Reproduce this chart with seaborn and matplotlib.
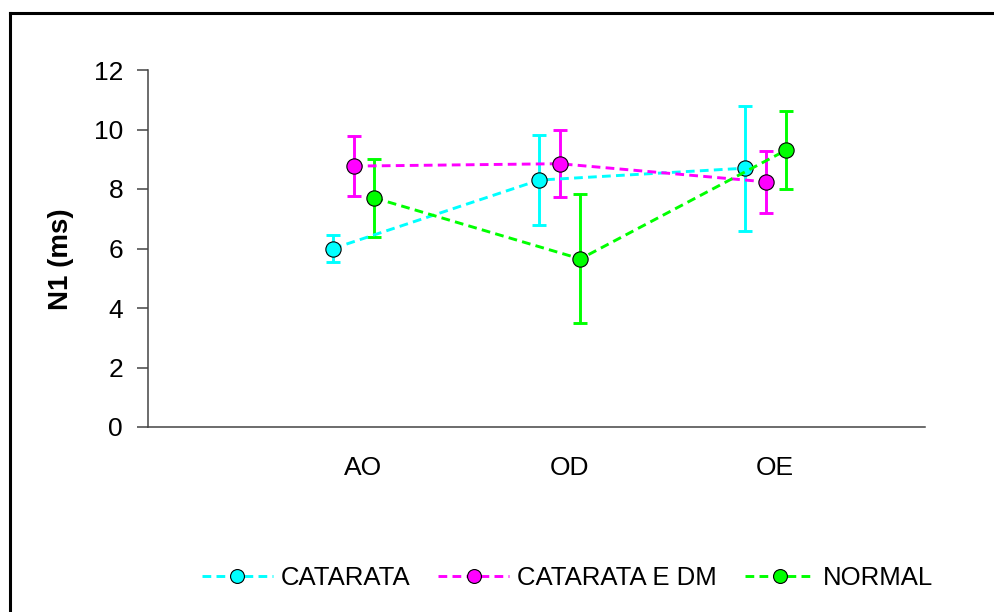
import matplotlib
matplotlib.use("Agg")
import matplotlib.pyplot as plt
from matplotlib.lines import Line2D
import numpy as np
import pandas as pd
import seaborn as sns

categories = ["AO", "OD", "OE"]
groups = ["CATARATA", "CATARATA E DM", "NORMAL"]
catarata = [6.0, 8.3, 8.7]
catarata_err = [0.45, 1.5, 2.1]
catarata_dm = [8.77, 8.85, 8.24]
catarata_dm_err = [1.0, 1.12, 1.05]
normal = [7.7, 5.65, 9.31]
normal_err = [1.3, 2.17, 1.31]
y_ticks = [0, 2, 4, 6, 8, 10, 12]

values = {"CATARATA": catarata, "CATARATA E DM": catarata_dm, "NORMAL": normal}
errors = {"CATARATA": catarata_err, "CATARATA E DM": catarata_dm_err, "NORMAL": normal_err}
colors = {"CATARATA": "#00FFFF", "CATARATA E DM": "#FF00FF", "NORMAL": "#00FF00"}
offsets = {"CATARATA": -0.145, "CATARATA E DM": -0.045, "NORMAL": 0.055}

rows = []
for g in groups:
    for i, c in enumerate(categories):
        rows.append({"group": g, "cat": c, "pos": i + offsets[g],
                     "value": values[g][i], "err": errors[g][i]})
df = pd.DataFrame(rows)

sns.set_style("white")
plt.rcParams["font.family"] = ["Liberation Sans", "DejaVu Sans"]
plt.rcParams["text.color"] = "black"
plt.rcParams["xtick.color"] = "black"
plt.rcParams["ytick.color"] = "black"
plt.rcParams["axes.labelcolor"] = "black"

fig = plt.figure(figsize=(9.94, 6.12), dpi=100)
ax = fig.add_axes([148 / 994, 1 - 427 / 612, (925 - 148) / 994, (427 - 70) / 612])

lw = 2.1
dash = (3.0, 1.8)
# error bars
for g in groups:
    sub = df[df.group == g]
    ax.errorbar(sub["pos"], sub["value"], yerr=sub["err"], fmt="none",
                ecolor=colors[g], elinewidth=lw, capsize=4.7, capthick=lw, zorder=2)

sns.lineplot(data=df, x="pos", y="value", hue="group", hue_order=groups,
             palette=colors, style="group", style_order=groups,
             dashes={g: dash for g in groups},
             markers={g: "o" for g in groups},
             markersize=11, markeredgecolor="black", markeredgewidth=0.8,
             linewidth=lw, legend=False, ax=ax, zorder=3, errorbar=None)

ax.set_xlim(-1.044, 2.728)
ax.set_ylim(0, 12)
ax.set_yticks(y_ticks)
ax.set_yticklabels([str(t) for t in y_ticks], fontsize=19)
ax.set_xticks(range(len(categories)))
ax.set_xticklabels(categories, fontsize=19)
ax.tick_params(axis="x", length=0, pad=21, labelcolor="black")
ax.tick_params(axis="y", length=8, width=1.1, color="#444444", pad=10, left=True,
               direction="out", labelcolor="black")
ax.set_xlabel("")
ax.set_ylabel("N1 (ms)", fontsize=20, fontweight="bold", va="center", color="black")
ax.yaxis.set_label_coords(-0.112, 0.47)

for s in ["top", "right"]:
    ax.spines[s].set_visible(False)
for s in ["left", "bottom"]:
    ax.spines[s].set_color("#444444")
    ax.spines[s].set_linewidth(1.1)

handles = [Line2D([0], [0], color=colors[g], lw=lw, dashes=dash, marker="o",
                  markersize=10, markerfacecolor=colors[g], markeredgecolor="black",
                  markeredgewidth=0.8) for g in groups]
fig.legend(handles, groups, loc="center", bbox_to_anchor=(0.571, 0.0556), ncol=3,
           frameon=False, fontsize=18.5, handlelength=2.75, handletextpad=0.3,
           columnspacing=1.1, labelcolor="black")

# outer frame (top and left edges visible)
fig.add_artist(Line2D([9.5 / 994, 1.0], [1 - 13 / 612, 1 - 13 / 612], transform=fig.transFigure,
                      color="black", lw=2.2, solid_capstyle="projecting"))
fig.add_artist(Line2D([10 / 994, 10 / 994], [0, 1 - 13 / 612], transform=fig.transFigure,
                      color="black", lw=2.2, solid_capstyle="projecting"))

fig.savefig("out.png", dpi=100)
